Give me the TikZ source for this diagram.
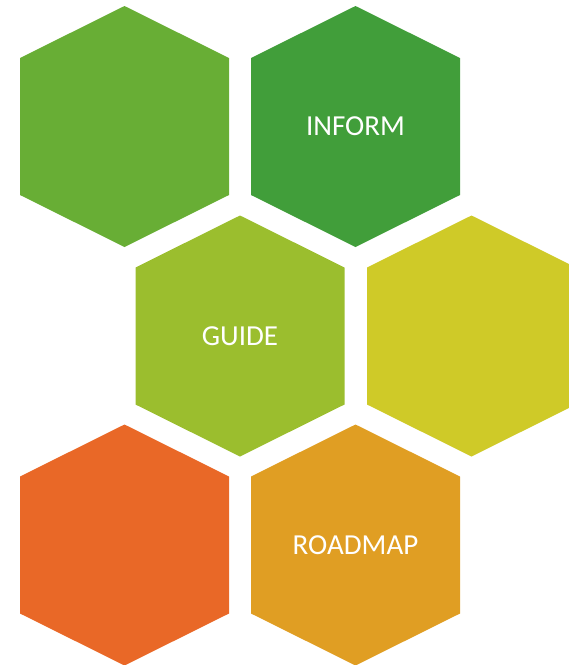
\documentclass[tikz,border=0pt]{standalone}
\usepackage{fontspec}
\setmainfont{Carlito}
\definecolor{hexA}{RGB}{104,174,53}
\definecolor{hexB}{RGB}{65,158,58}
\definecolor{hexC}{RGB}{155,190,46}
\definecolor{hexD}{RGB}{207,202,40}
\definecolor{hexE}{RGB}{233,104,39}
\definecolor{hexF}{RGB}{224,158,35}
\newcommand\hexshape[3]{\fill[#3] (#1,#2) ++(0,-120.5) -- ++(104.5,52) -- ++(0,137) -- ++(-104.5,52) -- ++(-104.5,-52) -- ++(0,-137) -- cycle;}
\begin{document}
\begin{tikzpicture}[x=1pt,y=-1pt,
  hexlabel/.style={text=white,font=\fontsize{29}{34}\selectfont,inner sep=0pt}]
\useasboundingbox (0,0) rectangle (569,665);
\clip (0,0) rectangle (569,665);
\hexshape{124.5}{126.5}{hexA}
\hexshape{355.5}{126.5}{hexB}
\hexshape{240}{336}{hexC}
\hexshape{471.5}{336}{hexD}
\hexshape{124.5}{545}{hexE}
\hexshape{355.5}{545}{hexF}
\node[hexlabel] (inform) at (355.5,126.5) {INFORM};
\node[hexlabel] (guide) at (240,336) {GUIDE};
\node[hexlabel] (roadmap) at (355.5,545) {ROADMAP};
\end{tikzpicture}
\end{document}
